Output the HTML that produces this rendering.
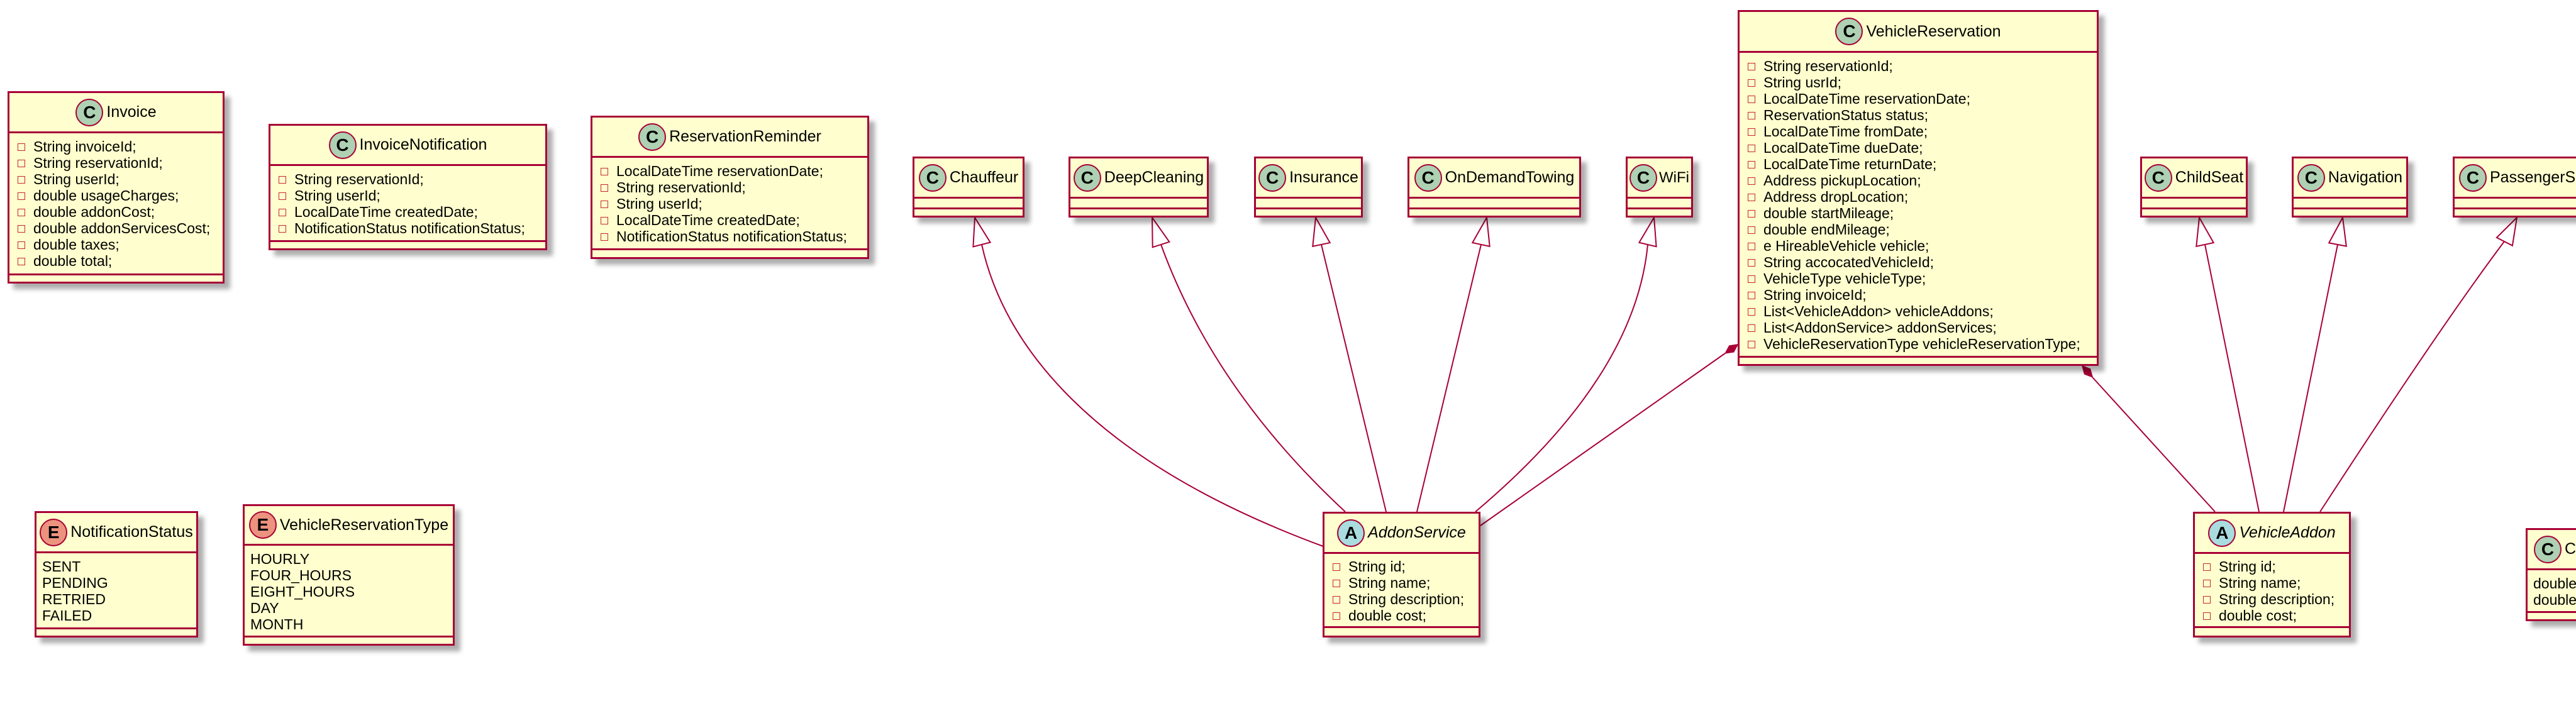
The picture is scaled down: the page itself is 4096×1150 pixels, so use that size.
<!DOCTYPE html>
<html><head><meta charset="utf-8">
<style>
html,body{margin:0;padding:0;background:#fff;}
body{width:4096px;height:1150px;position:relative;overflow:hidden;font-family:"Liberation Sans","DejaVu Sans",sans-serif;}
.b{position:absolute;box-sizing:border-box;border:3px solid #A80036;background:#FEFECE;box-shadow:9px 9px 7px rgba(0,0,0,0.32);}
.h{box-sizing:border-box;border-bottom:3px solid #A80036;display:flex;align-items:center;justify-content:center;white-space:nowrap;font-size:25px;color:#000;}
.f{box-sizing:border-box;border-bottom:3px solid #A80036;font-size:23px;line-height:26px;color:#000;white-space:nowrap;}
.ic{width:40px;height:40px;border-radius:50%;border:2px solid #A80036;display:inline-flex;align-items:center;justify-content:center;font-weight:bold;font-size:28px;margin-right:5px;flex:none;box-sizing:content-box;}
.c{background:#ADD1B2;}
.a{background:#A9DCDF;}
.e{background:#EB937F;}
.r{position:relative;padding-left:38px;}
.r:before{content:"";position:absolute;left:13px;top:8px;width:10px;height:10px;border:1.5px solid #C82930;}
.n{padding-left:9px;}
svg{position:absolute;left:0;top:0;}
</style></head><body>

<svg width="4096" height="1150" viewBox="0 0 4096 1150">
<g fill="none" stroke="#A80036" stroke-width="2">
<path d="M1561,389 C1590,520 1700,720 2104,869"/>
<path d="M1846,389 Q1930,620 2139,814"/>
<path d="M2101,389 L2204,814"/>
<path d="M2355,389 L2253,814"/>
<path d="M2620,389 Q2600,600 2346,814"/>
<path d="M2743,562 L2354,836"/>
<path d="M3327,600 L3522,814"/>
<path d="M3506,389 L3592,814"/>
<path d="M3717,389 L3631,814"/>
<path d="M3982,384 Q3880,520 3689,814"/>
</g>
<g fill="#fff" stroke="#A80036" stroke-width="2">
<polygon points="1550,346 1574.6,385.5 1547.4,392.5"/>
<polygon points="1832,346 1859.3,384.7 1832.7,393.3"/>
<polygon points="2092,346 2114.7,386.1 2087.3,391.9"/>
<polygon points="2364,346 2368.7,391.9 2341.3,386.1"/>
<polygon points="2630,346 2633.6,392.2 2606.4,385.8"/>
<polygon points="3497,346 3519.7,386.1 3492.3,391.9"/>
<polygon points="3725,346 3730.8,391.6 3703.2,386.4"/>
<polygon points="4002,346 3994.9,390.7 3969.9,377.9"/>
</g>
<g fill="#A80036" stroke="#A80036" stroke-width="1.5">
<polygon points="2763,548 2756.7,559.8 2743.4,561.8 2749.7,550"/>
<polygon points="3311,582 3323.5,586.9 3327.1,599.8 3314.5,594.9"/>
</g>
</svg>

<div class="b" style="left:12px;top:145px;width:345px;height:306px">
<div class="h" style="height:64px"><span class="ic c">C</span>Invoice</div>
<div class="f" style="height:226px;padding-top:8px">
<div class="r">String invoiceId;</div><div class="r">String reservationId;</div><div class="r">String userId;</div><div class="r">double usageCharges;</div><div class="r">double addonCost;</div><div class="r">double addonServicesCost;</div><div class="r">double taxes;</div><div class="r">double total;</div>
</div></div>

<div class="b" style="left:427px;top:197px;width:443px;height:201px">
<div class="h" style="height:64px"><span class="ic c">C</span>InvoiceNotification</div>
<div class="f" style="height:121px;padding-top:8px">
<div class="r">String reservationId;</div><div class="r">String userId;</div><div class="r">LocalDateTime createdDate;</div><div class="r">NotificationStatus notificationStatus;</div>
</div></div>

<div class="b" style="left:939px;top:184px;width:443px;height:228px">
<div class="h" style="height:64px"><span class="ic c">C</span>ReservationReminder</div>
<div class="f" style="height:147px;padding-top:8px">
<div class="r">LocalDateTime reservationDate;</div><div class="r">String reservationId;</div><div class="r">String userId;</div><div class="r">LocalDateTime createdDate;</div><div class="r">NotificationStatus notificationStatus;</div>
</div></div>

<div class="b" style="left:55px;top:813px;width:260px;height:201px">
<div class="h" style="height:64px"><span class="ic e">E</span>NotificationStatus</div>
<div class="f n" style="height:121px;padding-top:8px">
<div>SENT</div><div>PENDING</div><div>RETRIED</div><div>FAILED</div>
</div></div>

<div class="b" style="left:386px;top:802px;width:337px;height:225px">
<div class="h" style="height:63px"><span class="ic e">E</span>VehicleReservationType</div>
<div class="f n" style="height:146px;padding-top:8px">
<div>HOURLY</div><div>FOUR_HOURS</div><div>EIGHT_HOURS</div><div>DAY</div><div>MONTH</div>
</div></div>

<div class="b" style="left:1451px;top:249px;width:178px;height:97px"><div class="h" style="height:64px"><span class="ic c">C</span>Chauffeur</div><div class="f" style="height:17px"></div></div>
<div class="b" style="left:1699px;top:249px;width:223px;height:97px"><div class="h" style="height:64px"><span class="ic c">C</span>DeepCleaning</div><div class="f" style="height:17px"></div></div>
<div class="b" style="left:1994px;top:249px;width:173px;height:97px"><div class="h" style="height:64px"><span class="ic c">C</span>Insurance</div><div class="f" style="height:17px"></div></div>
<div class="b" style="left:2238px;top:249px;width:276px;height:97px"><div class="h" style="height:64px"><span class="ic c">C</span>OnDemandTowing</div><div class="f" style="height:17px"></div></div>
<div class="b" style="left:2585px;top:249px;width:107px;height:97px"><div class="h" style="height:64px;font-size:24px"><span class="ic c" style="margin-right:3px">C</span>WiFi</div><div class="f" style="height:17px"></div></div>
<div class="b" style="left:3403px;top:249px;width:171px;height:97px"><div class="h" style="height:64px"><span class="ic c">C</span>ChildSeat</div><div class="f" style="height:17px"></div></div>
<div class="b" style="left:3644px;top:249px;width:185px;height:97px"><div class="h" style="height:64px"><span class="ic c">C</span>Navigation</div><div class="f" style="height:17px"></div></div>
<div class="b" style="left:3900px;top:249px;width:300px;height:97px"><div class="h" style="height:64px;justify-content:flex-start;padding-left:7px"><span class="ic c">C</span>PassengerScreen</div><div class="f" style="height:17px"></div></div>

<div class="b" style="left:2103px;top:814px;width:251px;height:200px">
<div class="h" style="height:64px;font-style:italic"><span class="ic a" style="font-style:normal">A</span>AddonService</div>
<div class="f" style="height:118px;padding-top:7px">
<div class="r">String id;</div><div class="r">String name;</div><div class="r">String description;</div><div class="r">double cost;</div>
</div></div>

<div class="b" style="left:3487px;top:814px;width:251px;height:200px">
<div class="h" style="height:64px;font-style:italic"><span class="ic a" style="font-style:normal">A</span>VehicleAddon</div>
<div class="f" style="height:118px;padding-top:7px">
<div class="r">String id;</div><div class="r">String name;</div><div class="r">String description;</div><div class="r">double cost;</div>
</div></div>

<div class="b" style="left:2763px;top:16px;width:574px;height:566px">
<div class="h" style="height:65px"><span class="ic c">C</span>VehicleReservation</div>
<div class="f" style="height:485px;padding-top:8px">
<div class="r">String reservationId;</div><div class="r">String usrId;</div><div class="r">LocalDateTime reservationDate;</div><div class="r">ReservationStatus status;</div><div class="r">LocalDateTime fromDate;</div><div class="r">LocalDateTime dueDate;</div><div class="r">LocalDateTime returnDate;</div><div class="r">Address pickupLocation;</div><div class="r">Address dropLocation;</div><div class="r">double startMileage;</div><div class="r">double endMileage;</div><div class="r">e HireableVehicle vehicle;</div><div class="r">String accocatedVehicleId;</div><div class="r">VehicleType vehicleType;</div><div class="r">String invoiceId;</div><div class="r">List&lt;VehicleAddon&gt; vehicleAddons;</div><div class="r">List&lt;AddonService&gt; addonServices;</div><div class="r">VehicleReservationType vehicleReservationType;</div>
</div></div>

<div class="b" style="left:4016px;top:840px;width:220px;height:148px">
<div class="h" style="height:64px;justify-content:flex-start;padding-left:10px"><span class="ic c">C</span>Coordinates</div>
<div class="f n" style="height:68px;padding-top:8px;padding-left:9px">
<div>double latitude;</div><div>double longitude;</div>
</div></div>

</body></html>
